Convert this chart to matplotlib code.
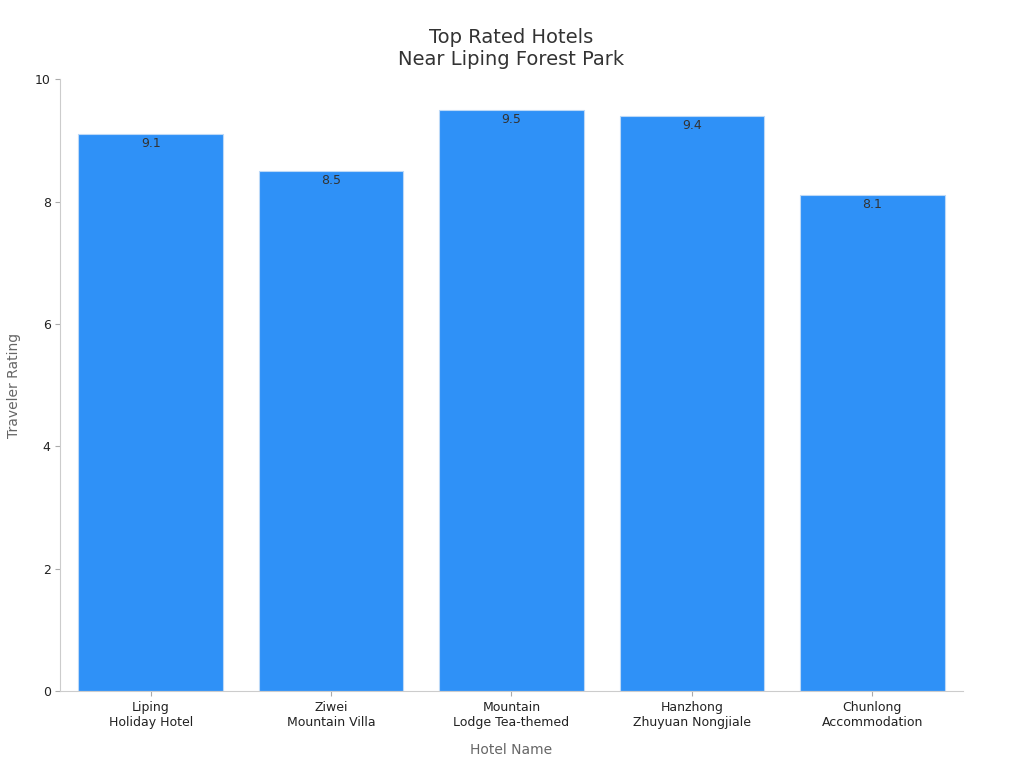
import matplotlib.pyplot as plt

hotels = ['Liping\nHoliday Hotel', 'Ziwei\nMountain Villa', 'Mountain\nLodge Tea-themed',
          'Hanzhong\nZhuyuan Nongjiale', 'Chunlong\nAccommodation']
ratings = [9.1, 8.5, 9.5, 9.4, 8.1]

plt.rcParams['font.family'] = ['DejaVu Sans']
fig, ax = plt.subplots(figsize=(10.24, 7.68), dpi=100)
fig.subplots_adjust(left=0.059, right=0.94, top=0.897, bottom=0.1)

bars = ax.bar(range(len(hotels)), ratings, width=0.8, color='#2f91f7', edgecolor='#bcd9f7', linewidth=0.8)
for b, v in zip(bars, ratings):
    ax.text(b.get_x() + b.get_width() / 2, v - 0.05, f'{v}', ha='center', va='top', fontsize=9, color='#333333')

ax.set_xticks(range(len(hotels)))
ax.set_xticklabels(hotels, fontsize=9, color='#222222')
ax.set_ylim(0, 10)
ax.set_xlim(-0.5, 4.5)
ax.set_yticks([0, 2, 4, 6, 8, 10])
ax.tick_params(axis='y', labelsize=9)
ax.tick_params(colors='#aaaaaa', labelcolor='#222222')
for s in ['top', 'right']:
    ax.spines[s].set_visible(False)
for s in ['left', 'bottom']:
    ax.spines[s].set_color('#cccccc')
ax.set_xlabel('Hotel Name', fontsize=10, color='#666666', labelpad=10)
ax.set_ylabel('Traveler Rating', fontsize=10, color='#666666', labelpad=10)
ax.set_title('Top Rated Hotels\nNear Liping Forest Park', fontsize=14, color='#333333', pad=10)

fig.savefig('out.png')
